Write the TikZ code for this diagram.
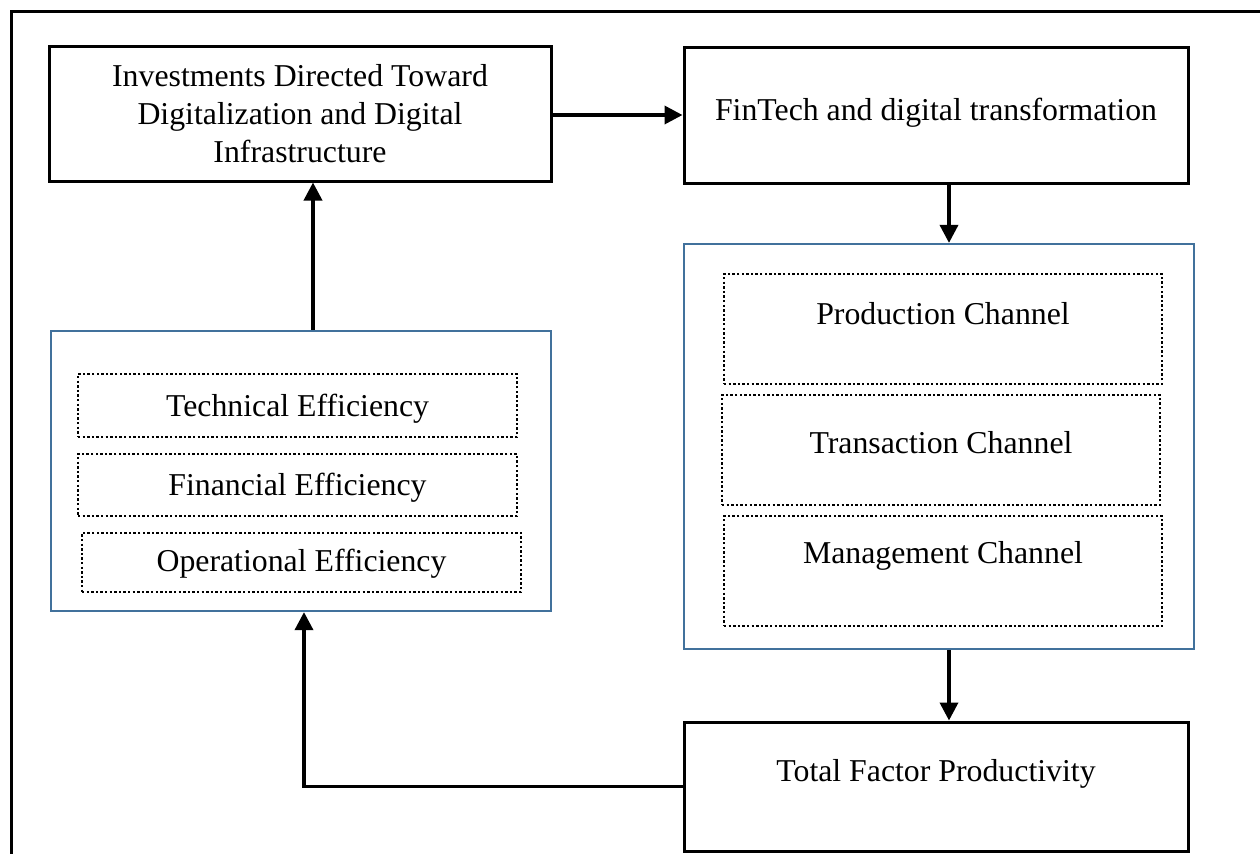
\documentclass[tikz,border=0pt]{standalone}
\usepackage{fontspec}
\setmainfont{Liberation Serif}
\usetikzlibrary{arrows.meta}
\definecolor{grpblue}{RGB}{65,113,156}
\begin{document}
\begin{tikzpicture}[x=0.5pt,y=-0.5pt,
  every node/.style={font=\fontsize{15.9}{19}\selectfont},
  solidbox/.style={draw=black, line width=1.5pt, rectangle, inner sep=0pt, align=center},
  groupbox/.style={draw=grpblue, line width=1.1pt, rectangle, inner sep=0pt},
  dotbox/.style={draw=black, line width=1.3pt, dash pattern=on 1.2pt off 1.1pt, rectangle, inner sep=0pt},
  arr/.style={line width=1.8pt, -{Triangle[width=9pt,length=9pt]}}]
\clip (0,0) rectangle (1260,853);
% outer frame
\draw[line width=1.5pt] (11,11) rectangle (1300,900);

% top boxes
\node[solidbox, minimum width=251pt, minimum height=67.5pt] (inv) at (300,113.5)
  {Investments Directed Toward\\Digitalization and Digital\\Infrastructure};
\node[solidbox, minimum width=252pt, minimum height=68pt,
  label={[yshift=1pt]center:FinTech and digital transformation}] (fin) at (936,115) {};

% channel group
\node[groupbox, minimum width=255pt, minimum height=202.5pt] (rgrp) at (939,446.5) {};
\node[dotbox, minimum width=219pt, minimum height=55pt,
  label={[yshift=7.5pt]center:Production Channel}] (prod) at (943,329) {};
\node[dotbox, minimum width=219pt, minimum height=55pt,
  label={[yshift=3.5pt]center:Transaction Channel}] (trans) at (941,450) {};
\node[dotbox, minimum width=219pt, minimum height=55pt,
  label={[yshift=7.5pt]center:Management Channel}] (mgmt) at (943,571) {};

% efficiency group
\node[groupbox, minimum width=250pt, minimum height=140pt] (lgrp) at (301,471) {};
\node[dotbox, minimum width=219.5pt, minimum height=31.5pt,
  label={[yshift=-1.5pt]center:Technical Efficiency}] (tech) at (297.5,405.5) {};
\node[dotbox, minimum width=219.5pt, minimum height=31pt,
  label={[yshift=-1.5pt]center:Financial Efficiency}] (finef) at (297.5,485) {};
\node[dotbox, minimum width=219.5pt, minimum height=29.5pt,
  label={[yshift=-0.5pt]center:Operational Efficiency}] (oper) at (301.5,562.5) {};

% productivity
\node[solidbox, minimum width=252pt, minimum height=64.5pt,
  label={[yshift=6.5pt]center:Total Factor Productivity}] (tfp) at (936,786.5) {};

% connectors
\draw[arr] (inv.east |- fin.west) -- (fin.west);
\draw[arr] ([xshift=6.5pt]fin.south) coordinate (p) -- (p |- rgrp.north);
\draw[arr] ([xshift=5pt]rgrp.south) coordinate (q) -- (q |- tfp.north);
\draw[arr] (tfp.west) -| ([xshift=1.5pt]lgrp.south);
\draw[arr] ([xshift=6pt]lgrp.north) coordinate (r) -- (r |- inv.south);
\end{tikzpicture}
\end{document}
